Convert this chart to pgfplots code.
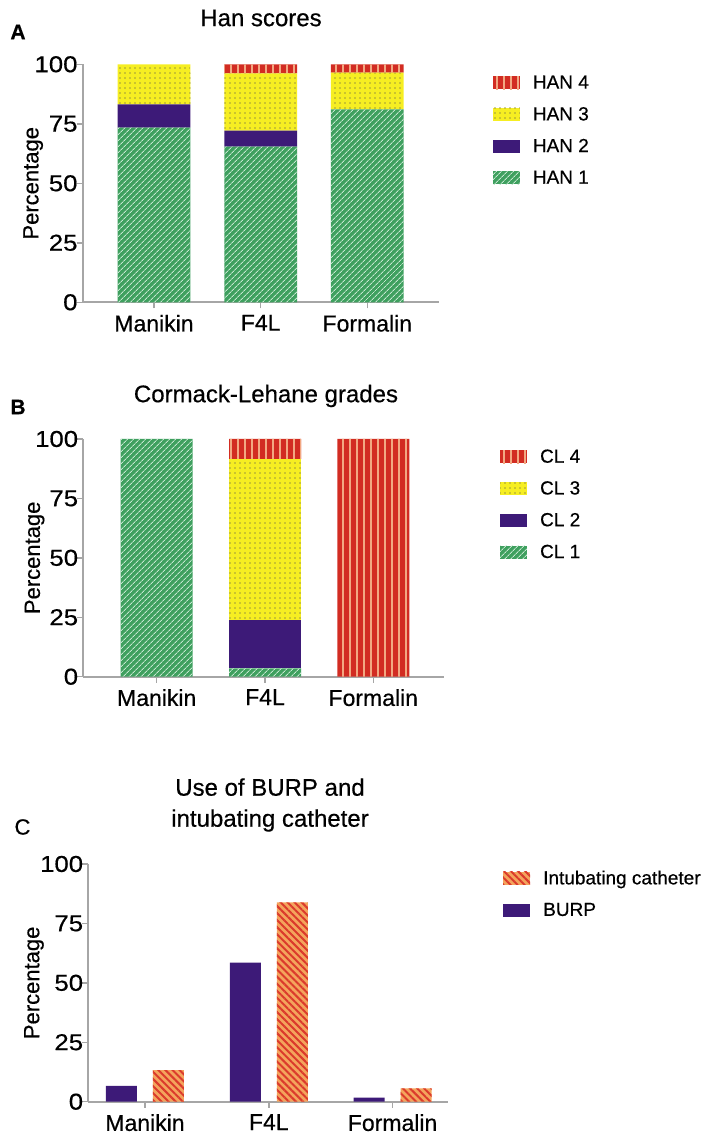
\documentclass[border=0pt]{standalone}
\usepackage{fontspec}
\setmainfont[FakeBold=0.5]{Liberation Sans}
\newfontfamily\widefont[FakeStretch=1.12,FakeBold=0.5]{Liberation Sans}
\usepackage{pgfplots}
\pgfplotsset{compat=1.18}
\usetikzlibrary{patterns,patterns.meta}

\definecolor{hgreen}{HTML}{3FA05F}
\definecolor{hgreenl}{HTML}{C4E6CF}
\definecolor{hpurple}{HTML}{3D1A78}
\definecolor{hyellow}{HTML}{F6EE22}
\definecolor{hdot}{HTML}{9E9B3C}
\definecolor{hred}{HTML}{D22C22}
\definecolor{hredl}{HTML}{F2A882}
\definecolor{corange}{HTML}{F4A45C}
\definecolor{cred}{HTML}{DB3A2C}
\definecolor{axgray}{HTML}{A6A6A6}

\tikzset{
 greenbar/.style={fill=hgreen, draw=none, postaction={pattern={Lines[angle=45,distance=4pt,line width=1pt]}, pattern color=hgreenl}},
 purplebar/.style={fill=hpurple, draw=none},
 yellowbar/.style={fill=hyellow, draw=none, postaction={pattern={Dots[distance=5pt,radius=0.8pt]}, pattern color=hdot}},
 redbar/.style={fill=hred, draw=none, postaction={pattern={Lines[angle=90,distance=7pt,line width=2.4pt]}, pattern color=hredl}},
 orangebar/.style={fill=corange, draw=none, postaction={pattern={Lines[angle=-45,distance=5pt,line width=2pt]}, pattern color=cred}},
}

\pgfplotsset{
 patch/.style={legend image code/.code={\path[##1] (0pt,-6.5pt) rectangle (27pt,6.5pt);}},
 prism/.style={
  scale only axis,
  axis x line*=bottom, axis y line*=left,
  axis line style={axgray, line width=2pt, -},
  tick style={axgray, line width=1.5pt},
  major tick length=6pt, tick align=outside,
  ymin=0, ymax=100, ytick={0,25,50,75,100},
  xtick={0,1,2}, xticklabels={Manikin,F4L,Formalin},
  /pgf/number format/assume math mode=true,
  xticklabel style={font=\fontsize{23}{23}\selectfont, yshift=-3pt},
  yticklabel style={font=\widefont\fontsize{23}{23}\selectfont, inner sep=0pt, xshift=1pt},
  ylabel={Percentage},
  ylabel style={font=\fontsize{22}{22}\selectfont, anchor=center},
  legend cell align=left,
  reverse legend,
  legend style={draw=none, fill=none, inner sep=0pt, anchor=west,
    font=\fontsize{19}{19}\selectfont,
    nodes={inner sep=0pt},
    row sep=17pt,
    /tikz/every odd column/.append style={column sep=13pt}},
 },
}

\begin{document}
\begin{tikzpicture}
\path[use as bounding box] (0pt,0pt) rectangle (705pt,1138pt);

% Panel A
\begin{axis}[prism, at={(82.7pt,835.7pt)}, anchor=south west,
  width=356.6pt, height=238pt, xmin=-0.6685, xmax=2.675,
  ybar stacked, bar width=72.7pt,
  ylabel style={at={(axis description cs:-0.139,0.5)}},
  legend style={at={(axis description cs:1.1497,0.7223)}}]
\addplot[greenbar, patch] coordinates {(0,73.4) (1,65.4) (2,81.1)};
\addplot[purplebar, patch] coordinates {(0,9.8) (1,6.7) (2,0)};
\addplot[yellowbar, patch] coordinates {(0,16.8) (1,24.1) (2,15.4)};
\addplot[redbar, patch] coordinates {(0,0) (1,3.8) (2,3.5)};
\legend{HAN 1, HAN 2, HAN 3, HAN 4}
\end{axis}

% Panel B
\begin{axis}[prism, at={(83.3pt,461.3pt)}, anchor=south west,
  width=360.7pt, height=237.7pt, xmin=-0.678, xmax=2.653,
  ybar stacked, bar width=72pt,
  ylabel style={at={(axis description cs:-0.135,0.5)}},
  legend style={at={(axis description cs:1.155,0.7245)}}]
\addplot[greenbar, patch] coordinates {(0,100) (1,3.5) (2,0)};
\addplot[purplebar, patch] coordinates {(0,0) (1,20.4) (2,0)};
\addplot[yellowbar, patch] coordinates {(0,0) (1,67.6) (2,0)};
\addplot[redbar, patch] coordinates {(0,0) (1,8.5) (2,100)};
\legend{CL 1, CL 2, CL 3, CL 4}
\end{axis}

% Panel C
\begin{axis}[prism, at={(88.3pt,36.3pt)}, anchor=south west,
  width=360pt, height=237.7pt, xmin=-0.458, xmax=2.450,
  ybar, bar width=31pt,
  ylabel style={at={(axis description cs:-0.151,0.5)}},
  legend style={at={(axis description cs:1.152,0.8738)}}]
\addplot[purplebar, patch, bar shift=-23.5pt] coordinates {(0,6.7) (1,58.5) (2,1.7)};
\addplot[orangebar, patch, bar shift=23.5pt] coordinates {(0,13.3) (1,83.9) (2,5.6)};
\legend{BURP, Intubating catheter}
\end{axis}

% titles and panel letters
\node[font=\fontsize{24}{24}\selectfont] at (261pt,1120pt) {Han scores};
\node[font=\fontsize{24}{24}\selectfont] at (266pt,742pt) {Cormack-Lehane grades};
\node[font=\fontsize{24}{31}\selectfont, align=center] at (270pt,333pt) {Use of BURP and\\intubating catheter};
\node[font=\fontsize{21}{21}\selectfont\bfseries] at (18pt,1106pt) {A};
\node[font=\fontsize{21}{21}\selectfont\bfseries] at (18pt,731pt) {B};
\node[font=\fontsize{22}{22}\selectfont] at (22.5pt,311pt) {C};
\end{tikzpicture}
\end{document}
